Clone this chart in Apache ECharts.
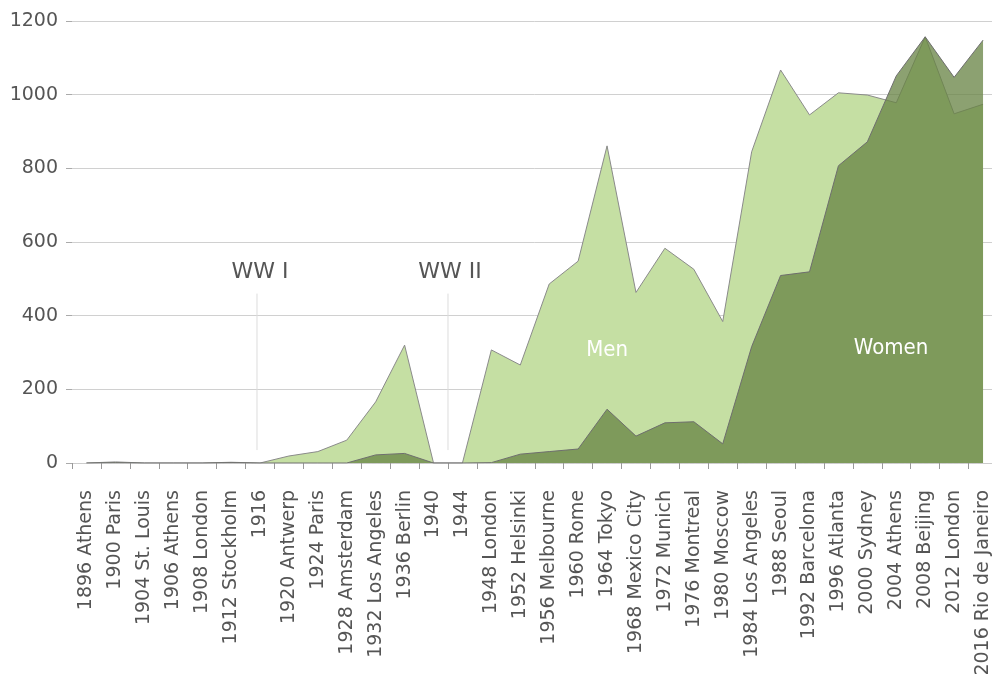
<!DOCTYPE html>
<html>
<head>
<meta charset="utf-8">
<script src="https://cdn.jsdelivr.net/npm/echarts@6/dist/echarts.min.js"></script>
<style>
  html, body { margin: 0; padding: 0; background: #fff; overflow: hidden; width: 992px; height: 684px; }
  #chart { width: 1010px; height: 684px; }
</style>
</head>
<body>
<div id="chart"></div>
<script>
const categories = [
  '1896 Athens', '1900 Paris', '1904 St. Louis', '1906 Athens', '1908 London',
  '1912 Stockholm', '1916', '1920 Antwerp', '1924 Paris', '1928 Amsterdam',
  '1932 Los Angeles', '1936 Berlin', '1940', '1944', '1948 London',
  '1952 Helsinki', '1956 Melbourne', '1960 Rome', '1964 Tokyo', '1968 Mexico City',
  '1972 Munich', '1976 Montreal', '1980 Moscow', '1984 Los Angeles', '1988 Seoul',
  '1992 Barcelona', '1996 Atlanta', '2000 Sydney', '2004 Athens', '2008 Beijing',
  '2012 London', '2016 Rio de Janeiro'
];
const men = [0, 3, 0, 0, 0, 2, 0, 19, 31, 62, 166, 320, 0, 0, 307, 266, 486, 548, 861, 463,
  583, 526, 384, 845, 1067, 945, 1005, 999, 978, 1157, 948, 974];
const women = [0, 1, 0, 0, 0, 1, 0, 0, 0, 0, 22, 26, 0, 0, 1, 24, 31, 38, 146, 73,
  109, 112, 52, 316, 509, 519, 807, 872, 1051, 1157, 1047, 1148];
const yTicks = [0, 200, 400, 600, 800, 1000, 1200];

const FONT = '"DejaVu Sans", sans-serif';
const chart = echarts.init(document.getElementById('chart'));
chart.setOption({
  animation: false,
  backgroundColor: '#fff',
  grid: { left: 72, top: 21, width: 925.5, height: 442, containLabel: false },
  xAxis: {
    type: 'category',
    data: categories,
    boundaryGap: true,
    axisLine: { show: true, lineStyle: { color: '#cccccc', type: 'dashed', width: 1 } },
    axisTick: { show: true, interval: 0, length: 6, lineStyle: { color: '#999999' } },
    axisLabel: { interval: 0, rotate: 90, margin: 27, fontSize: 19, color: '#555555', fontFamily: FONT },
    splitLine: { show: false }
  },
  yAxis: {
    type: 'value',
    min: yTicks[0],
    max: yTicks[yTicks.length - 1],
    interval: 200,
    axisLine: { show: false },
    axisTick: { show: true, length: 6, lineStyle: { color: '#aaaaaa' } },
    axisLabel: { margin: 14, fontSize: 19, color: '#555555', fontFamily: FONT, formatter: v => String(v) },
    splitLine: { show: true, lineStyle: { color: '#d0d0d0', width: 1 } }
  },
  series: [
    {
      name: 'Men',
      type: 'line',
      data: men,
      symbol: 'none',
      lineStyle: { color: '#8a8a8a', width: 1 },
      areaStyle: { color: '#c5dfa3', opacity: 1 },
      z: 2
    },
    {
      name: 'Women',
      type: 'line',
      data: women,
      symbol: 'none',
      lineStyle: { color: '#6e6e6e', width: 1 },
      areaStyle: { color: 'rgb(104,132,69)', opacity: 0.76 },
      z: 3
    }
  ]
});

function px(idx, val) { return chart.convertToPixel({ seriesIndex: 0 }, [idx, val]); }
const lineTop = px(6, 460)[1], lineBot = px(6, 35)[1], labY = px(6, 519)[1];
const w1 = px(6, 0)[0];
const w2 = (px(12, 0)[0] + px(13, 0)[0]) / 2;
const menPt = px(18, 307);
const womenX = px(27, 0)[0] + 0.82 * (px(28, 0)[0] - px(27, 0)[0]);
const womenY = px(27, 312)[1];
const LBL = '22px "DejaVu Sans Condensed", "DejaVu Sans", sans-serif';

chart.setOption({
  graphic: [
    { type: 'line', shape: { x1: w1 - 3, y1: lineTop, x2: w1 - 3, y2: lineBot }, style: { stroke: '#dddddd', lineWidth: 1 }, z: 1 },
    { type: 'line', shape: { x1: w2, y1: lineTop, x2: w2, y2: lineBot }, style: { stroke: '#dddddd', lineWidth: 1 }, z: 1 },
    { type: 'text', x: w1, y: labY, style: { text: 'WW I', fill: '#555555', font: '22px ' + FONT, textAlign: 'center', textVerticalAlign: 'middle' }, z: 10 },
    { type: 'text', x: w2 + 2, y: labY, style: { text: 'WW II', fill: '#555555', font: '22px ' + FONT, textAlign: 'center', textVerticalAlign: 'middle' }, z: 10 },
    { type: 'text', x: menPt[0], y: menPt[1], style: { text: 'Men', fill: '#ffffff', font: LBL, textAlign: 'center', textVerticalAlign: 'middle' }, z: 10 },
    { type: 'text', x: womenX, y: womenY, style: { text: 'Women', fill: '#ffffff', font: LBL, textAlign: 'center', textVerticalAlign: 'middle' }, z: 10 }
  ]
});
</script>
</body>
</html>
